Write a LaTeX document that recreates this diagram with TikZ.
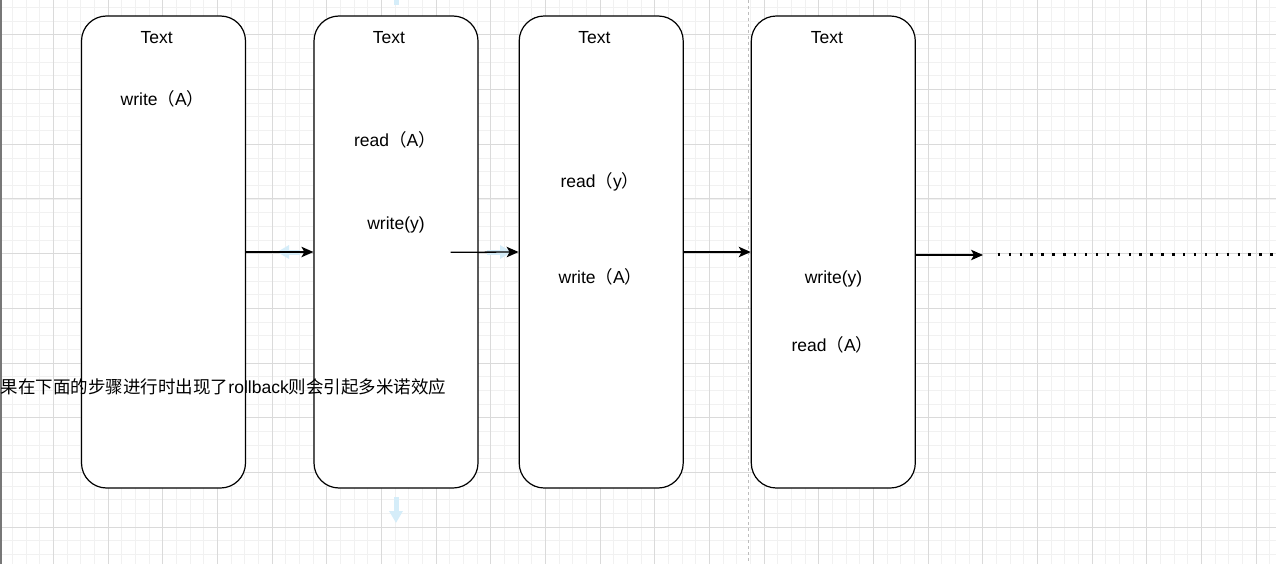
\documentclass[tikz,border=0pt]{standalone}
\usepackage{fontspec}
\setmainfont{Liberation Sans}
\newfontfamily\cjk{Noto Sans CJK SC}
\usetikzlibrary{arrows.meta}
\definecolor{gridminor}{HTML}{F1F1F1}
\definecolor{gridmajor}{HTML}{DADADA}
\definecolor{hintblue}{HTML}{D5EDF9}
\definecolor{edgegray}{HTML}{777777}
\definecolor{pagegray}{HTML}{BDBDBD}
\newcommand\fwlp{{\cjk （}}
\newcommand\fwrp{{\cjk ）}}
\begin{document}
\begin{tikzpicture}[x=1pt,y=-1pt,
  box/.style={draw=black, fill=white, line width=1.2pt, rounded corners=25pt,
    minimum width=164pt, minimum height=472pt, inner sep=0pt},
  lbl/.style={inner sep=0pt, anchor=base, font=\fontsize{17.5}{20}\selectfont, text=black},
  flow/.style={line width=1.3pt, draw=black, -{Stealth[length=12pt,width=10.5pt,inset=3pt]}},
  hint/.style={draw=hintblue, line width=5pt, -{Triangle[length=12pt,width=13pt,fill=hintblue]}},
  gminor/.style={draw=gridminor, line width=1pt},
  gmajor/.style={draw=gridmajor, line width=1pt},
  pagebreak/.style={draw=pagegray, line width=1pt, dash pattern=on 3pt off 3pt},
  dotline/.style={draw=black, line width=2.4pt, dash pattern=on 2.4pt off 8.5pt},
]
\useasboundingbox (0,0) rectangle (1276,564);
\clip (0,0) rectangle (1276,564);
\fill[white] (0,0) rectangle (1276,564);
% grid
\foreach \i in {0,...,94} {
  \pgfmathsetmacro\xx{-1.33+13.667*\i}
  \draw[gminor] (\xx,0) -- (\xx,564);
}
\foreach \i in {0,...,43} {
  \pgfmathsetmacro\yy{-19.67+13.667*\i}
  \draw[gminor] (0,\yy) -- (1276,\yy);
}
\foreach \i in {0,...,24} {
  \pgfmathsetmacro\xx{-1.33+54.667*\i}
  \draw[gmajor] (\xx,0) -- (\xx,564);
}
\foreach \i in {0,...,11} {
  \pgfmathsetmacro\yy{-19.67+54.667*\i}
  \draw[gmajor] (0,\yy) -- (1276,\yy);
}
% editor edge and page break
\fill[edgegray] (0,0) rectangle (2,564);
\draw[pagebreak] (748.3,0) -- (748.3,564);

% boxes
\node[box] (b1) at (163.5,252) {};
\node[box] (b2) at (396,252) {};
\node[box] (b3) at (601.2,252) {};
\node[box] (b4) at (833.3,252) {};

% hover hints
\coordinate (h1s) at (300,252);
\coordinate (h1e) at (277,252);
\coordinate (h2s) at (487,252);
\coordinate (h2e) at (512,252);
\coordinate (h3s) at (396,497);
\coordinate (h3e) at (396,523);
\draw[hint] (h1s) -- (h1e);
\draw[hint] (h2s) -- (h2e);
\draw[hint] (h3s) -- (h3e);
\fill[hintblue] (393.5,0) rectangle (398.5,5);

% connectors
\coordinate (a2s) at (450.7,252.3);
\coordinate (a4e) at (983,255);
\coordinate (d0) at (997.7,254.5);
\coordinate (d1) at (1285,254.5);
\draw[flow] (b1.east) -- (b2.west);
\draw[flow] (a2s) -- (b3.west);
\draw[flow] (b3.east) -- (b4.west);
\draw[flow] ([yshift=-3pt]b4.east) -- (a4e);
\draw[dotline] (d0) -- (d1);

% labels
\node[lbl] (t1) at (156.7,43.3) {Text};
\node[lbl] (t2) at (389,43.3) {Text};
\node[lbl] (t3) at (594.5,43.3) {Text};
\node[lbl] (t4) at (827,43.3) {Text};
\node[lbl] (w1) at (162.5,105.8) {write\fwlp A\fwrp};
\node[lbl] (r2) at (395,146.5) {read\fwlp A\fwrp};
\node[lbl] (w2) at (396,229) {write(y)};
\node[lbl] (r3) at (600,187.7) {read\fwlp y\fwrp};
\node[lbl] (w3) at (600.5,283.5) {write\fwlp A\fwrp};
\node[lbl] (w4) at (833.5,283.5) {write(y)};
\node[lbl] (r4) at (832.5,351.8) {read\fwlp A\fwrp};
\node[lbl, anchor=base east] (note) at (446.5,393.3)
  {{\cjk 果在下面的步骤进行时出现了}rollback{\cjk 则会引起多米诺效应}};
\end{tikzpicture}
\end{document}
